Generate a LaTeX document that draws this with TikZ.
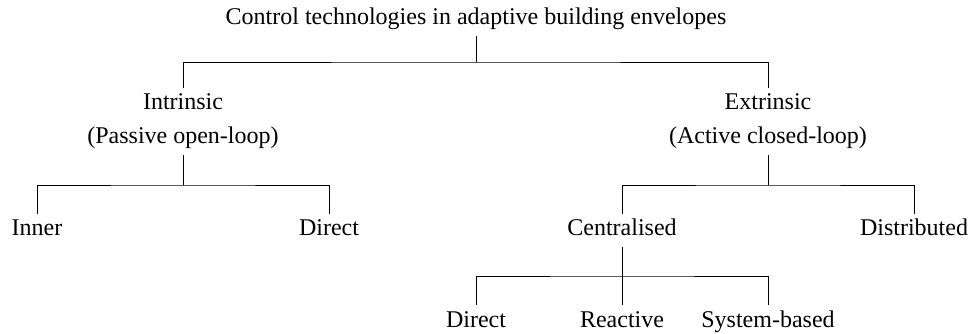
\documentclass[tikz,border=0pt]{standalone}
\usepackage{fontspec}
\setmainfont{Liberation Serif}
\begin{document}
\begin{tikzpicture}[x=1pt,y=-1pt,
  lbl/.style={font=\fontsize{24}{28}\selectfont, text height=16pt, text depth=5pt,
              inner xsep=0pt, inner ysep=6pt, anchor=base},
  conn/.style={line width=0.9pt, black}]
\useasboundingbox[fill=white] (0,0) rectangle (970,334);

% labels
\node[lbl] (root)  at (476,25)  {Control technologies in adaptive building envelopes};
\node[lbl] (intr)  at (183,110) {Intrinsic};
\node[lbl] (intrs) at (183,144) {(Passive open-loop)};
\node[lbl] (extr)  at (768,110) {Extrinsic};
\node[lbl] (extrs) at (768,144) {(Active closed-loop)};
\node[lbl] (inner) at (37,236)  {Inner};
\node[lbl] (dira)  at (329,236) {Direct};
\node[lbl] (cent)  at (622,236) {Centralised};
\node[lbl] (dist)  at (914,236) {Distributed};
\node[lbl] (dirb)  at (476,327) {Direct};
\node[lbl] (react) at (622,327) {Reactive};
\node[lbl] (sysb)  at (768,327) {System-based};

% bar levels
\coordinate (b1) at (476,62);
\coordinate (b2) at (183,185);
\coordinate (b3) at (768,185);
\coordinate (b4) at (622,276);

% connectors
\draw[conn] (root.south) -- (root.south |- b1);
\draw[conn] (intr.north) |- (b1) -| (extr.north);
\draw[conn] (intrs.south) -- (intrs.south |- b2);
\draw[conn] (inner.north) |- (b2) -| (dira.north);
\draw[conn] (extrs.south) -- (extrs.south |- b3);
\draw[conn] (cent.north |- b3) -- (b3) -| (dist.north);
\draw[conn] (cent.north) -- (cent.north |- b3);
\draw[conn] (cent.south) -- (react.north);
\draw[conn] (dirb.north) |- (b4) -| (sysb.north);
\end{tikzpicture}
\end{document}
